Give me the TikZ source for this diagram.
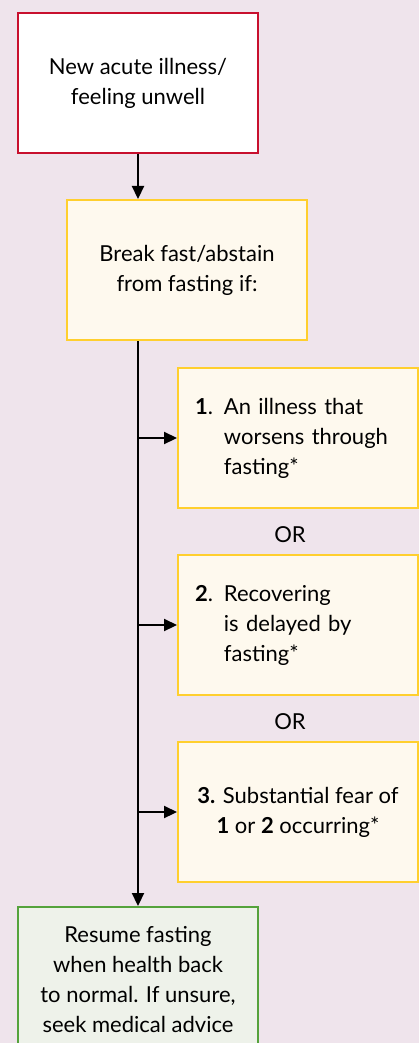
\documentclass[tikz,border=0pt]{standalone}
\usepackage{fontspec}
\setmainfont{Lato}
\usetikzlibrary{arrows.meta, positioning}

\definecolor{bgpink}{HTML}{EFE4EC}
\definecolor{illred}{HTML}{C8102E}
\definecolor{gold}{HTML}{FFCF2E}
\definecolor{cream}{HTML}{FEF9EE}
\definecolor{okgreen}{HTML}{55A23C}
\definecolor{mint}{HTML}{EEF2EA}

\begin{document}
\begin{tikzpicture}[x=1pt, y=-1pt]
  \tikzset{box/.style = {shape=rectangle, draw, line width=2pt, minimum width=240pt, minimum height=140pt, font=\fontsize{22}{30}\selectfont, align=center}}
  \tikzset{step box/.style = {box, draw=gold, fill=cream}}
  \tikzset{edge/.style = {->, > = {Triangle[length=13pt, width=12pt]}, line width=2.2pt}}
  \tikzset{orlabel/.style = {font=\fontsize{22}{24}\selectfont}}

  \useasboundingbox (0, 0) rectangle (419, 1043);
  \fill[bgpink] (0, 0) rectangle (419, 1043);
  \clip (0, 0) rectangle (419, 1043);

  \node[box, draw=illred, fill=white] (unwell) at (138, 83) {New acute illness/\\feeling unwell};
  \node[step box] (abstain) at (187, 270) {Break fast/abstain\\from fasting if:};

  \node[step box, align=left, text width=206pt] (worsens) at (298, 438)
    {\textbf{1}. An illness that\\\phantom{\textbf{1}. }worsens through\\\phantom{\textbf{1}. }fasting*};
  \node[orlabel] (or1) at (290, 535) {OR};
  \node[step box, align=left, text width=206pt] (delayed) at (298, 625)
    {\textbf{2}. Recovering\\\phantom{\textbf{2}. }is delayed by\\\phantom{\textbf{2}. }fasting*};
  \node[orlabel] (or2) at (290, 722) {OR};
  \node[step box] (fear) at (298, 812) {\textbf{3.} Substantial fear of\\\textbf{1} or \textbf{2} occurring*};

  \node[box, draw=okgreen, fill=mint, minimum height=146pt] (resume) at (138, 980)
    {Resume fasting\\when health back\\to normal. If unsure,\\seek medical advice};

  \draw[edge] (unwell.south) -- (unwell.south |- abstain.north);
  \draw[edge] (unwell.south |- abstain.south) -- (resume.north);
  \draw[edge] (resume.north |- worsens.west) -- (worsens.west);
  \draw[edge] (resume.north |- delayed.west) -- (delayed.west);
  \draw[edge] (resume.north |- fear.west) -- (fear.west);
\end{tikzpicture}
\end{document}
